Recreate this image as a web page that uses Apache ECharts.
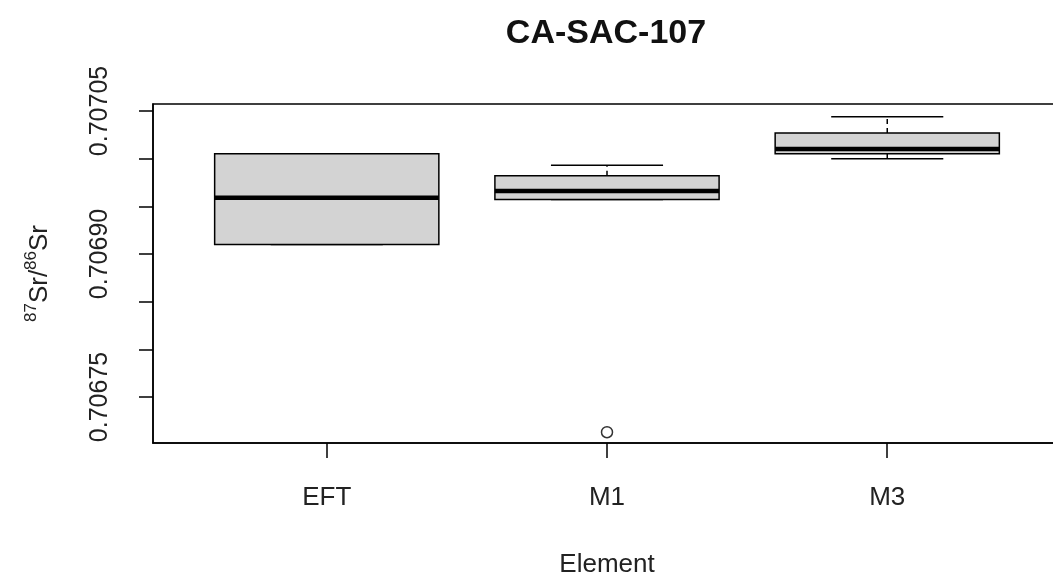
<!DOCTYPE html>
<html>
<head>
<meta charset="utf-8">
<script src="https://cdn.jsdelivr.net/npm/echarts@6/dist/echarts.min.js"></script>
<style>
html,body{margin:0;padding:0;background:#fff;}
#chart{width:1053px;height:578px;}
</style>
</head>
<body>
<div id="chart"></div>
<script>
// ---- data ----
const categories = ['EFT', 'M1', 'M3'];
const mins    = [0.706910, 0.706957, 0.707000];
const q1s     = [0.706910, 0.706957, 0.707005];
const medians = [0.706959, 0.706966, 0.707010];
const q3s     = [0.707005, 0.706982, 0.707027];
const maxs    = [0.707005, 0.706993, 0.707044];
const outlierCats   = ['M1'];
const outlierValues = [0.706713];
const yTicks  = [0.70675, 0.70680, 0.70685, 0.70690, 0.70695, 0.70700, 0.70705];
const yLabels = [0.70675, 0.70690, 0.70705];

const boxData = categories.map((c, i) => [i + 1, mins[i], q1s[i], medians[i], q3s[i], maxs[i]]);
const outlierData = outlierCats.map((c, i) => [categories.indexOf(c) + 1, outlierValues[i]]);

const font = '"Liberation Sans", Arial, sans-serif';
const txt = '#222';

function renderBox(params, api) {
  const x = api.value(0);
  const vmin = api.value(1), vq1 = api.value(2), vmed = api.value(3), vq3 = api.value(4), vmax = api.value(5);
  const w = api.size([0.8, 0])[0];
  const pMin = api.coord([x, vmin]);
  const pQ1 = api.coord([x, vq1]);
  const pMed = api.coord([x, vmed]);
  const pQ3 = api.coord([x, vq3]);
  const pMax = api.coord([x, vmax]);
  const cx = pMed[0];
  const children = [];
  const dash = {stroke: '#000', lineWidth: 1.5, lineDash: [5, 4]};
  if (pMax[1] < pQ3[1]) {
    children.push({type: 'line', shape: {x1: cx, y1: pQ3[1], x2: cx, y2: pMax[1]}, style: dash});
  }
  if (pMin[1] > pQ1[1]) {
    children.push({type: 'line', shape: {x1: cx, y1: pQ1[1], x2: cx, y2: pMin[1]}, style: dash});
  }
  children.push({type: 'line', shape: {x1: cx - w / 4, y1: pMax[1], x2: cx + w / 4, y2: pMax[1]}, style: {stroke: '#000', lineWidth: 1.5}});
  children.push({type: 'line', shape: {x1: cx - w / 4, y1: pMin[1], x2: cx + w / 4, y2: pMin[1]}, style: {stroke: '#000', lineWidth: 1.5}});
  children.push({type: 'rect', shape: {x: cx - w / 2, y: pQ3[1], width: w, height: pQ1[1] - pQ3[1]},
    style: {fill: '#d3d3d3', stroke: '#000', lineWidth: 1.5}});
  children.push({type: 'line', shape: {x1: cx - w / 2, y1: pMed[1], x2: cx + w / 2, y2: pMed[1]},
    style: {stroke: '#000', lineWidth: 4.5}});
  return {type: 'group', children: children};
}

const chart = echarts.init(document.getElementById('chart'), null, {renderer: 'canvas'});
chart.setOption({
  backgroundColor: '#fff',
  animation: false,
  title: {
    text: 'CA-SAC-107',
    left: 601, top: 12, textAlign: 'center',
    textStyle: {fontFamily: font, fontSize: 34, fontWeight: 'bold', color: '#111'}
  },
  grid: {
    left: 153, top: 104, right: -8, bottom: 135,
    outerBoundsMode: 'none', containLabel: false,
    show: true, borderColor: '#000', borderWidth: 1.5, backgroundColor: 'transparent'
  },
  xAxis: {
    type: 'value', min: 0.38, max: 3.62,
    name: 'Element', nameLocation: 'middle', nameGap: 109,
    nameTextStyle: {fontFamily: font, fontSize: 26, color: txt},
    axisLine: {show: true, lineStyle: {color: '#000', width: 1.5}},
    axisTick: {show: true, length: 15, customValues: [1, 2, 3], lineStyle: {color: '#000', width: 1.5}},
    axisLabel: {show: true, customValues: [1, 2, 3], margin: 42, fontFamily: font, fontSize: 26, color: txt,
      formatter: v => categories[Math.round(v) - 1]},
    splitLine: {show: false}
  },
  yAxis: {
    type: 'value', min: 0.7067017, max: 0.7070573,
    name: '{sup|87}{b|Sr/}{sup|86}{b|Sr}', nameLocation: 'middle', nameGap: 100, nameRotate: 90,
    nameTextStyle: {fontFamily: font, color: txt,
      rich: {
        b: {fontFamily: font, fontSize: 26, color: txt, lineHeight: 30, verticalAlign: 'bottom'},
        sup: {fontFamily: font, fontSize: 17, color: txt, lineHeight: 30, verticalAlign: 'top'}
      }},
    axisLine: {show: true, lineStyle: {color: '#000', width: 1.5}},
    axisTick: {show: true, length: 14, customValues: yTicks, lineStyle: {color: '#000', width: 1.5}},
    axisLabel: {show: true, customValues: yLabels, rotate: 90, margin: 40, fontFamily: font, fontSize: 25, color: txt,
      formatter: v => v.toFixed(5)},
    splitLine: {show: false}
  },
  series: [
    {
      type: 'custom',
      renderItem: renderBox,
      data: boxData,
      encode: {x: 0, y: [1, 2, 3, 4, 5]},
      clip: false
    },
    {
      type: 'scatter',
      data: outlierData,
      symbol: 'circle',
      symbolSize: 11,
      itemStyle: {color: '#fff', borderColor: '#000', borderWidth: 1.5}
    }
  ]
});
</script>
</body>
</html>
